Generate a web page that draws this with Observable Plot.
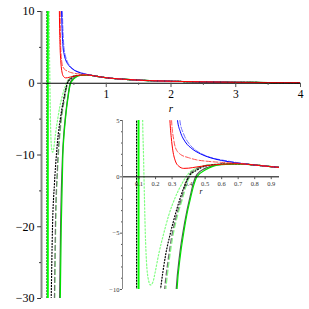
<!DOCTYPE html>
<html><head><meta charset="utf-8">
<script src="https://cdn.jsdelivr.net/npm/d3@7"></script>
<script src="https://cdn.jsdelivr.net/npm/@observablehq/plot@0.6"></script>
<style>
body{margin:0;background:#fff;}
#wrap{position:relative;width:309px;height:309px;overflow:hidden;}
#wrap svg{position:absolute;background:transparent;}
</style></head>
<body><div id="wrap"></div>
<script>
// shared tail (r, V)
const tail = [[0.8,1.05],[0.9,0.9],[1.0,0.77],[1.2,0.6],[1.5,0.43],[2,0.28],[2.5,0.19],[3,0.13],[3.5,0.1],[4,0.08]];
// repulsive curves
const redSolid = [[0.276,10],[0.281,7],[0.287,5],[0.295,3.5],[0.305,2.3],[0.32,1.4],[0.34,0.95],[0.37,0.75],[0.4,0.77],[0.45,0.88],[0.5,0.98],[0.55,1.06],[0.6,1.11],[0.7,1.16]];
const redDash = [[0.288,10],[0.292,7],[0.297,5],[0.31,3.3],[0.32,2.6],[0.35,2.0],[0.4,1.7],[0.45,1.5],[0.5,1.4],[0.6,1.28],[0.7,1.2]];
const blueSolid = [[0.31,10],[0.32,7],[0.333,5],[0.35,4],[0.38,3.1],[0.42,2.5],[0.47,2.05],[0.53,1.7],[0.6,1.45],[0.7,1.22]];
const blueDash = [[0.322,10],[0.333,7],[0.347,5],[0.37,3.8],[0.4,3.0],[0.45,2.3],[0.5,1.9],[0.55,1.65],[0.6,1.5],[0.7,1.25]];
// attractive curves
const greenSolid = [[0.29,-30],[0.305,-20],[0.33,-10],[0.35,-7],[0.37,-5],[0.39,-3.3],[0.41,-2],[0.43,-0.8],[0.45,0],[0.5,0.6],[0.55,0.95],[0.6,1.08],[0.7,1.15]];
const blackSolid = [[0.28,-30],[0.295,-20],[0.325,-10],[0.345,-7],[0.365,-5],[0.39,-3],[0.41,-1.7],[0.43,-0.5],[0.45,0.2],[0.5,0.75],[0.55,1.0],[0.6,1.1],[0.7,1.16]];
const greenDash = [[0.205,-30],[0.22,-20],[0.25,-12],[0.262,-10],[0.282,-7.5],[0.302,-5.5],[0.332,-3.5],[0.362,-2],[0.392,-0.5],[0.412,0.2],[0.45,0.7],[0.5,1.0],[0.6,1.13],[0.7,1.16]];
const grayDash = [[0.2,-30],[0.215,-20],[0.245,-12],[0.255,-10],[0.275,-7.5],[0.295,-5.5],[0.325,-3.5],[0.355,-2],[0.385,-0.5],[0.405,0.2],[0.45,0.72],[0.5,1.0],[0.6,1.13],[0.7,1.16]];
const blackDot = [[0.15,-30],[0.17,-20],[0.2,-14],[0.23,-10],[0.26,-7],[0.29,-5],[0.33,-2.8],[0.37,-1],[0.4,0],[0.45,0.6],[0.5,0.95],[0.6,1.12],[0.7,1.15]];
const greenDot = [[0.118,10],[0.122,5],[0.127,2],[0.13,0],[0.133,-2],[0.138,-5],[0.145,-7.5],[0.155,-9],[0.17,-9.6],[0.185,-9.3],[0.2,-8.3],[0.22,-6.8],[0.25,-5],[0.28,-3.4],[0.32,-1.8],[0.36,-0.6],[0.4,0.3],[0.45,0.8],[0.5,1.0],[0.6,1.13],[0.7,1.15]];
// near-vertical curves at small r
const greenVert = [[0.097,10],[0.0975,-30]];
const blackVert = [[0.085,10],[0.0855,-30]];

// axis ticks
const mainYMajor = [-30,-20,-10,0,10];
const mainYMinor = [-25,-15,-5,5];
const mainXMajor = [1,2,3,4];
const mainXMinor = [0.5,1.5,2.5,3.5];
const insetYMajor = [-10,-5,0,5];
const insetYMinor = [-9,-8,-7,-6,-4,-3,-2,-1,1,2,3,4];
const insetXMajor = [0.1,0.2,0.3,0.4,0.5,0.6,0.7,0.8,0.9];

const series = [
  {pts: greenDot, color:"#80ff80", dash:"1.5,2", w:1.2},
  {pts: greenDash, color:"#80ff80", dash:"5,3", w:1.2},
  {pts: grayDash, color:"#707070", dash:"5,3", w:1.2},
  {pts: blackDot, color:"#000000", dash:"1,2", w:1.2},
  {pts: blackSolid, color:"#555555", dash:null, w:1.2},
  {pts: greenSolid, color:"#00e000", dash:null, w:1.2},
  {pts: blueDash, color:"#6f6fff", dash:"5,2", w:1},
  {pts: blueSolid, color:"#0000ff", dash:null, w:1},
  {pts: redDash, color:"#ff5050", dash:"5,2", w:1},
  {pts: redSolid, color:"#ff0000", dash:null, w:1},
  {pts: blackVert, color:"#000000", dash:"1,2", w:1.2, vert:true},
  {pts: greenVert, color:"#00ff00", dash:null, w:2, vert:true},
];

function lineMarks(xmax) {
  return series.map(s => {
    const data = (s.vert ? s.pts : s.pts.concat(tail)).map(([r,v]) => ({r, v})).filter(d => d.r <= xmax + 0.3);
    return Plot.line(data, {x:"r", y:"v", stroke:s.color, strokeWidth:s.w, strokeDasharray:s.dash, curve: s.vert ? "linear" : "monotone-x", clip:true});
  });
}
const fmt = d => d < 0 ? "\u2212" + Math.abs(d) : String(d);
const serif = "'Liberation Serif','DejaVu Serif',serif";

const main = Plot.plot({
  width:309, height:309,
  marginLeft:41, marginRight:9, marginTop:11, marginBottom:11,
  style:{fontFamily:serif, background:"transparent"},
  x:{domain:[0,4], axis:null},
  y:{domain:[-30,10], axis:null},
  marks:[
    ...lineMarks(4),
    Plot.ruleY([0], {stroke:"#000", strokeWidth:1}),
    Plot.ruleX([0], {stroke:"#888", strokeWidth:2}),
    Plot.ruleY(mainYMajor, {y:d=>d, x1:-0.06, x2:0, stroke:"#333"}),
    Plot.ruleY(mainYMinor, {y:d=>d, x1:-0.03, x2:0, stroke:"#333"}),
    Plot.ruleX(mainXMajor, {x:d=>d, y1:0, y2:-0.6, stroke:"#555"}),
    Plot.ruleX(mainXMinor, {x:d=>d, y1:0, y2:-0.3, stroke:"#555"}),
    Plot.text(mainYMajor, {x:0, y:d=>d, text:fmt, dx:-7, textAnchor:"end", fontSize:12, fill:"#000"}),
    Plot.text(mainXMajor, {x:d=>d, y:0, text:fmt, dy:11, fontSize:11.5, fill:"#000"}),
    Plot.text(["r"], {x:2, y:0, text:d=>d, dy:25, fontSize:11, fontStyle:"italic", fill:"#000"}),
  ]
});
main.style.left = "0px"; main.style.top = "0px";
document.getElementById("wrap").appendChild(main);

const inset = Plot.plot({
  width:185, height:190,
  marginLeft:22, marginRight:6, marginTop:10, marginBottom:11,
  style:{fontFamily:serif, background:"transparent"},
  x:{domain:[0,0.95], axis:null},
  y:{domain:[-10,5], axis:null},
  marks:[
    ...lineMarks(0.95),
    Plot.ruleY([0], {stroke:"#000", strokeWidth:1}),
    Plot.ruleX([0], {stroke:"#888", strokeWidth:1}),
    Plot.ruleY(insetYMajor, {y:d=>d, x1:-0.012, x2:0, stroke:"#555"}),
    Plot.ruleY(insetYMinor, {y:d=>d, x1:-0.006, x2:0, stroke:"#555"}),
    Plot.ruleX(insetXMajor, {x:d=>d, y1:0, y2:-0.25, stroke:"#555"}),
    Plot.text(insetYMajor, {x:0, y:d=>d, text:fmt, dx:-3, textAnchor:"end", fontSize:6.5, fill:"#333"}),
    Plot.text(insetXMajor, {x:d=>d, y:0, text:fmt, dy:7, fontSize:6.5, fill:"#333"}),
    Plot.text(["r"], {x:0.475, y:0, text:d=>d, dy:15, fontSize:7.5, fontStyle:"italic", fill:"#000"}),
  ]
});
inset.style.left = "100px"; inset.style.top = "110px";
document.getElementById("wrap").appendChild(inset);
</script></body></html>
